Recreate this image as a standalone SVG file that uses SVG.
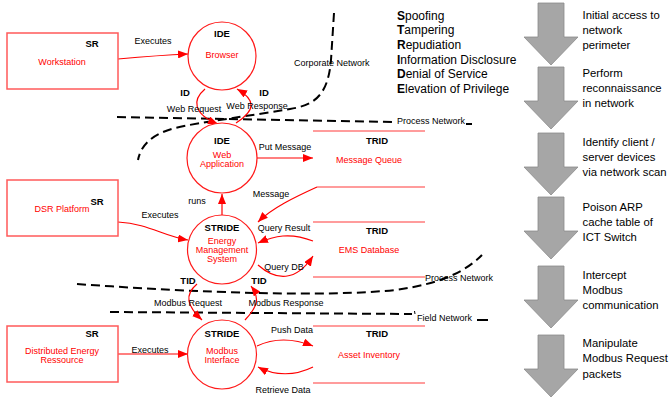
<svg xmlns="http://www.w3.org/2000/svg" width="669" height="403" viewBox="0 0 669 403">
<defs>
<marker id="ah" viewBox="0 0 10 8" refX="10" refY="4" markerWidth="10" markerHeight="8" markerUnits="userSpaceOnUse" orient="auto"><path d="M0,0 L10,4 L0,8 z" fill="#ff0000"/></marker>
<style>
.box{fill:#fff;stroke:#ff5a5a;stroke-width:1.5}
.proc{fill:#fff;stroke:#ff1a1a;stroke-width:1.2}
.store{stroke:#ff3b3b;stroke-width:1.1;fill:none}
.tag{font-family:"Liberation Sans",Arial,sans-serif;font-size:9.5px;font-weight:bold;fill:#000;text-anchor:middle}
.name{font-family:"Liberation Sans",Arial,sans-serif;font-size:9px;fill:#ff0000;text-anchor:middle}
.lbl{font-family:"Liberation Sans",Arial,sans-serif;font-size:9px;fill:#000;text-anchor:middle}
.flow{fill:none;stroke:#ff0000;stroke-width:1.2;marker-end:url(#ah)}
.bound{fill:none;stroke:#000;stroke-width:2;stroke-dasharray:9 5}
.net{font-family:"Liberation Sans",Arial,sans-serif;font-size:9px;fill:#000}
.big{font-family:"Liberation Sans",Arial,sans-serif;font-size:12px;fill:#000}
.step{font-family:"Liberation Sans",Arial,sans-serif;font-size:11.3px;fill:#000}
.garr{fill:#a6a6a6;stroke:#8c8c8c;stroke-width:0.8}
</style>
</defs>
<rect width="669" height="403" fill="#fff"/>

<g id="boundaries">
<path class="bound" d="M334 13 L331 60 C328 95 315 105 290 109 C250 116 200 122 175 128 C152 134 141 145 138 160"/>
<text class="net" x="294" y="66">Corporate Network</text>
<path class="bound" d="M117 117 L395 122"/>
<text class="net" x="397" y="124">Process Network</text>
<path d="M466 124 L472 124" stroke="#000" stroke-width="2"/>
<path class="bound" d="M77 284 C200 293 330 297 395 290 C440 284 465 272 482 255"/>
<text class="net" x="425" y="281">Process Network</text>
<path class="bound" d="M110 312 L412 314"/>
<path d="M414.5 311 L415 314" stroke="#000" stroke-width="1"/>
<text class="net" x="417" y="321">Field Network</text>
<path d="M477 320 L488 320" stroke="#000" stroke-width="2"/>
</g>

<g id="connectors">
<path class="flow" d="M118 59 C140 57 165 55 188 54"/>
<text class="lbl" x="153" y="44">Executes</text>
<path class="flow" d="M205 89 C192 100 193 114 218 124"/>
<text class="lbl" x="194" y="112">Web Request</text>
<path class="flow" d="M236 123 C256 110 256 100 237 89"/>
<text class="lbl" x="257" y="109">Web Response</text>
<path class="flow" d="M257 158 L313 158"/>
<text class="lbl" x="285" y="150">Put Message</text>
<path class="flow" d="M317 187 C295 197 272 208 258 222"/>
<text class="lbl" x="271" y="197">Message</text>
<path class="flow" d="M222 215 L222 194"/>
<text class="lbl" x="197" y="204">runs</text>
<path class="flow" d="M118 222 C150 224 162 236 188 240"/>
<text class="lbl" x="160" y="218">Executes</text>
<path class="flow" d="M313 241 C290 232 274 236 258 243"/>
<text class="lbl" x="284" y="231">Query Result</text>
<path class="flow" d="M258 265 C276 281 296 282 313 256"/>
<text class="lbl" x="284" y="270">Query DB</text>
<path class="flow" d="M197 284 C184 295 187 306 202 320"/>
<text class="lbl" x="188" y="306">Modbus Request</text>
<path class="flow" d="M245 320 C258 306 260 298 251 286"/>
<text class="lbl" x="286" y="306">Modbus Response</text>
<path class="flow" d="M118 354 L188 354"/>
<text class="lbl" x="150" y="353">Executes</text>
<path class="flow" d="M257 346 C276 337 295 339 313 346"/>
<text class="lbl" x="292" y="333">Push Data</text>
<path class="flow" d="M313 367 C295 376 275 376 258 367"/>
<text class="lbl" x="283" y="393">Retrieve Data</text>
<text class="tag" x="185" y="95.5">ID</text>
<text class="tag" x="264" y="95.5">ID</text>
<text class="tag" x="188" y="283.5">TID</text>
<text class="tag" x="259" y="283.5">TID</text>
</g>

<g id="workstation">
<rect class="box" x="7" y="33" width="111" height="56"/>
<text class="tag" x="92" y="46.5">SR</text>
<text class="name" x="62" y="65">Workstation</text>
</g>
<g id="browser">
<circle class="proc" cx="222" cy="56" r="34"/>
<text class="tag" x="222" y="36.5">IDE</text>
<text class="name" x="222" y="58">Browser</text>
</g>
<g id="web-application">
<circle class="proc" cx="222" cy="158" r="35"/>
<text class="tag" x="222" y="143.5">IDE</text>
<text class="name" x="222" y="158">Web</text>
<text class="name" x="222" y="167">Application</text>
</g>
<g id="message-queue">
<path class="store" d="M313 131 L425 131 M317 187 L425 187"/>
<text class="tag" x="377" y="144">TRID</text>
<text class="name" x="369" y="163">Message Queue</text>
</g>
<g id="dsr-platform">
<rect class="box" x="7" y="180" width="111" height="56"/>
<text class="tag" x="97" y="204.5">SR</text>
<text class="name" x="62" y="212">DSR Platform</text>
</g>
<g id="energy-management-system">
<circle class="proc" cx="222" cy="249.5" r="34.5"/>
<text class="tag" x="222" y="230.5">STRIDE</text>
<text class="name" x="222" y="244">Energy</text>
<text class="name" x="222" y="253">Management</text>
<text class="name" x="222" y="262">System</text>
</g>
<g id="ems-database">
<path class="store" d="M313 222 L425 222 M313 277 L425 277"/>
<text class="tag" x="377" y="234">TRID</text>
<text class="name" x="369" y="253">EMS Database</text>
</g>
<g id="distributed-energy-ressource">
<rect class="box" x="7" y="326" width="111" height="56"/>
<text class="tag" x="92" y="336.5">SR</text>
<text class="name" x="62" y="354">Distributed Energy</text>
<text class="name" x="62" y="363">Ressource</text>
</g>
<g id="modbus-interface">
<circle class="proc" cx="222" cy="354.5" r="34.5"/>
<text class="tag" x="222" y="336.5">STRIDE</text>
<text class="name" x="222" y="354">Modbus</text>
<text class="name" x="222" y="363">Interface</text>
</g>
<g id="asset-inventory">
<path class="store" d="M313 326 L425 326 M313 383 L425 383"/>
<text class="tag" x="377" y="337">TRID</text>
<text class="name" x="369" y="358">Asset Inventory</text>
</g>

<g id="stride-legend" class="big">
<text x="397" y="19.5"><tspan font-weight="bold">S</tspan>poofing</text>
<text x="397" y="34.2"><tspan font-weight="bold">T</tspan>ampering</text>
<text x="397" y="48.9"><tspan font-weight="bold">R</tspan>epudiation</text>
<text x="397" y="63.6"><tspan font-weight="bold">I</tspan>nformation Disclosure</text>
<text x="397" y="78.3"><tspan font-weight="bold">D</tspan>enial of Service</text>
<text x="397" y="93"><tspan font-weight="bold">E</tspan>levation of Privilege</text>
</g>

<g id="attack-steps">
<polygon class="garr" points="538,3 564,3 564,37 578,37 551,65 524,37 538,37"/>
<polygon class="garr" points="538,67 564,67 564,101 578,101 551,129 524,101 538,101"/>
<polygon class="garr" points="538,133 564,133 564,167 578,167 551,195 524,167 538,167"/>
<polygon class="garr" points="538,197 564,197 564,231 578,231 551,259 524,231 538,231"/>
<polygon class="garr" points="538,266 564,266 564,300 578,300 551,328 524,300 538,300"/>
<polygon class="garr" points="538,335 564,335 564,369 578,369 551,397 524,369 538,369"/>
<text class="step" x="582.5" y="19">Initial access to</text>
<text class="step" x="582.5" y="34">network</text>
<text class="step" x="582.5" y="49">perimeter</text>
<text class="step" x="582.5" y="77">Perform</text>
<text class="step" x="582.5" y="92">reconnaissance</text>
<text class="step" x="582.5" y="107">in network</text>
<text class="step" x="582.5" y="146">Identify client /</text>
<text class="step" x="582.5" y="161">server devices</text>
<text class="step" x="582.5" y="176">via network scan</text>
<text class="step" x="582.5" y="211">Poison ARP</text>
<text class="step" x="582.5" y="226">cache table of</text>
<text class="step" x="582.5" y="241">ICT Switch</text>
<text class="step" x="582.5" y="279">Intercept</text>
<text class="step" x="582.5" y="294">Modbus</text>
<text class="step" x="582.5" y="309">communication</text>
<text class="step" x="582.5" y="347">Manipulate</text>
<text class="step" x="582.5" y="362">Modbus Request</text>
<text class="step" x="582.5" y="378">packets</text>
</g>
</svg>
